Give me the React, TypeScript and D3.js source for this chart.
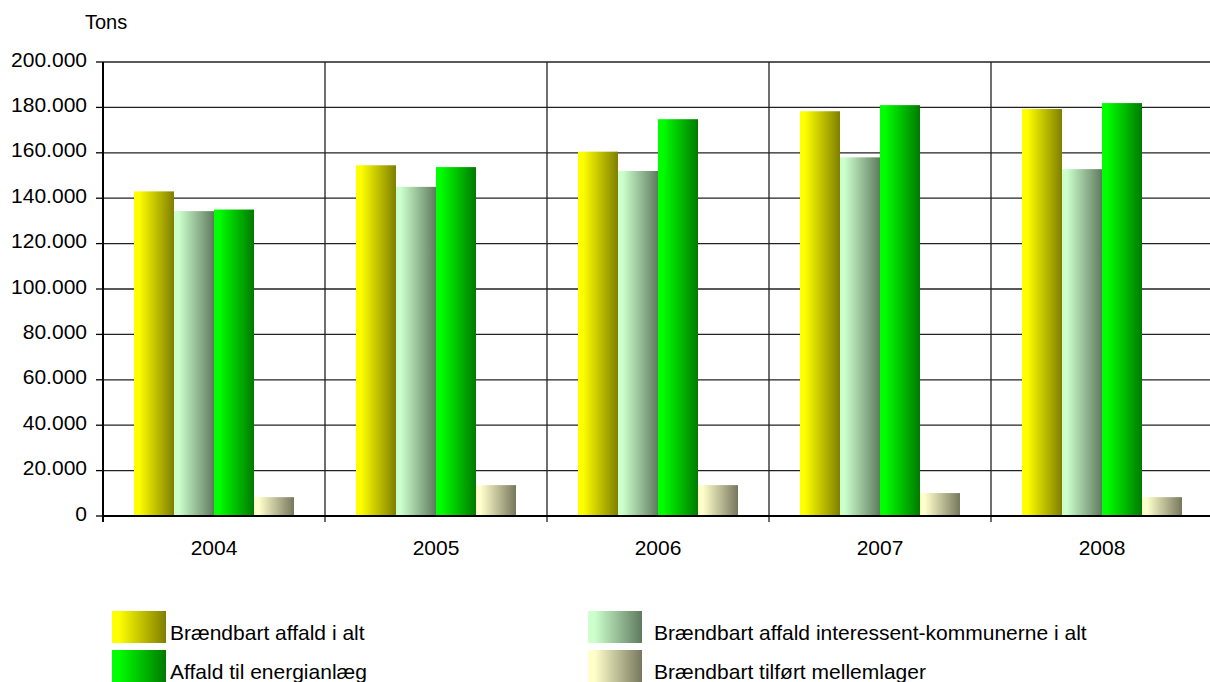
import React from 'react';
import * as d3 from 'd3';

const years = ['2004', '2005', '2006', '2007', '2008'];
const seriesNames = [
  'Brændbart affald i alt',
  'Brændbart affald interessent-kommunerne i alt',
  'Affald til energianlæg',
  'Brændbart tilført mellemlager',
];
const braendbartIAlt = [143000, 154500, 160500, 178300, 179300];
const interessentKommuner = [134300, 145000, 152000, 158000, 152800];
const energianlaeg = [135000, 153700, 174800, 181000, 181900];
const mellemlager = [8300, 13600, 13600, 10100, 8300];
const yTicks = [0, 20000, 40000, 60000, 80000, 100000, 120000, 140000, 160000, 180000, 200000];

const seriesValues = [braendbartIAlt, interessentKommuner, energianlaeg, mellemlager];
const gradients = [
  ['#ffff00', '#7f7f00'],
  ['#ccffcc', '#5f7a5f'],
  ['#00ff00', '#007a00'],
  ['#ffffcc', '#77775e'],
];

const W = 1210;
const H = 682;
const left = 103;
const right = 1213;
const top = 62;
const bottom = 516;

const fmt = (v: number) => d3.format(',')(v).replace(/,/g, '.');

const App: React.FC = () => {
  const x = d3.scaleBand().domain(years).range([left, right]);
  const inner = d3
    .scaleBand<number>()
    .domain([0, 1, 2, 3])
    .range([31, x.bandwidth() - 31]);
  const y = d3.scaleLinear().domain([0, 200000]).range([bottom, top]);
  const font = 'Arial, "Liberation Sans", sans-serif';

  // legend swatch position and text x
  const legendPos = [
    { x: 112, y: 611, tx: 170 },
    { x: 588, y: 611, tx: 654 },
    { x: 112, y: 650, tx: 170 },
    { x: 588, y: 650, tx: 654 },
  ];

  return (
    <svg
      width={W}
      height={H}
      style={{ position: 'absolute', left: 0, top: 0, background: '#fff' }}
      fontFamily={font}
    >
      <defs>
        {gradients.map(([a, b], i) => (
          <linearGradient key={i} id={`g${i}`} x1="0" x2="1" y1="0" y2="0">
            <stop offset="0%" stopColor={a} />
            <stop offset="12%" stopColor={a} />
            <stop offset="100%" stopColor={b} />
          </linearGradient>
        ))}
      </defs>

      <text x={85} y={29} fontSize={20} fill="#000">Tons</text>

      {/* horizontal grid */}
      {yTicks.map((t) => (
        <g key={t}>
          {t > 0 && (
            <line x1={left} x2={right} y1={y(t)} y2={y(t)} stroke="#222" strokeWidth={1.3} />
          )}
          <line x1={96} x2={left} y1={y(t)} y2={y(t)} stroke="#000" strokeWidth={1.3} />
          <text x={87} y={y(t) + 4.5} fontSize={21} textAnchor="end" fill="#000">
            {fmt(t)}
          </text>
        </g>
      ))}

      {/* vertical grid at category boundaries */}
      {years.map((yr, i) => {
        const bx = (x(yr) as number) + x.bandwidth();
        return i < years.length - 1 ? (
          <line key={yr} x1={bx} x2={bx} y1={top} y2={bottom + 6} stroke="#222" strokeWidth={1.3} />
        ) : null;
      })}

      {/* bars */}
      {years.map((yr, i) => (
        <g key={yr}>
          {seriesValues.map((vals, s) => (
            <rect
              key={s}
              x={(x(yr) as number) + (inner(s) as number)}
              y={y(vals[i])}
              width={inner.bandwidth()}
              height={bottom - y(vals[i])}
              fill={`url(#g${s})`}
            />
          ))}
        </g>
      ))}

      {/* axes */}
      <line x1={left} x2={left} y1={top} y2={bottom + 6} stroke="#000" strokeWidth={2} />
      <line x1={left} x2={right} y1={bottom} y2={bottom} stroke="#000" strokeWidth={2} />

      {years.map((yr) => (
        <text
          key={yr}
          x={(x(yr) as number) + x.bandwidth() / 2}
          y={555}
          fontSize={21}
          textAnchor="middle"
          fill="#000"
        >
          {yr}
        </text>
      ))}

      {/* legend */}
      {seriesNames.map((name, i) => (
        <g key={name}>
          <rect x={legendPos[i].x} y={legendPos[i].y} width={54} height={32} fill={`url(#g${i})`} />
          <text x={legendPos[i].tx} y={legendPos[i].y + 29} fontSize={21} fill="#000">{name}</text>
        </g>
      ))}
    </svg>
  );
};

export default App;
